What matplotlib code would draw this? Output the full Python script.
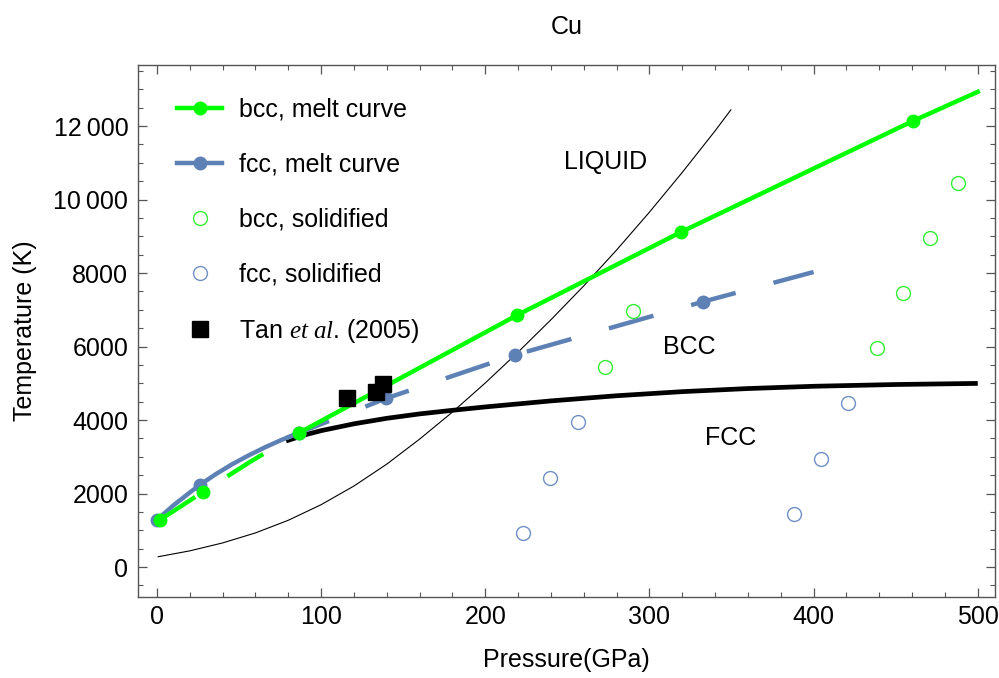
import matplotlib
matplotlib.use("Agg")
import matplotlib.pyplot as plt
from matplotlib.lines import Line2D
from matplotlib.ticker import MultipleLocator, FuncFormatter

plt.rcParams['font.family'] = ['Liberation Sans', 'DejaVu Sans']
plt.rcParams['mathtext.fontset'] = 'custom'
plt.rcParams['mathtext.it'] = 'Liberation Serif:italic'
plt.rcParams['mathtext.rm'] = 'Liberation Sans'

GREEN = '#00ff00'
BLUE = '#5e81b5'

# bcc melt curve (markers)
bcc_P = [1.8, 28, 86.4, 219.6, 319.3, 460.5]
bcc_T = [1280, 2040, 3646, 6857, 9116, 12136]
# bcc line: dashed (metastable) part and solid part
bcc_dash_P = [1.8, 28, 56, 86.4]
bcc_dash_T = [1280, 2040, 2840, 3646]
bcc_solid_P = [86.4, 219.6, 319.3, 460.5, 500]
bcc_solid_T = [3646, 6857, 9116, 12136, 12930]

# fcc melt curve (markers)
fcc_P = [0, 26, 86.4, 139.7, 218, 332.7]
fcc_T = [1280, 2230, 3646, 4590, 5769, 7220]
fcc_solid_P = [0, 10, 20, 26, 36, 46, 56, 66, 76, 86.4]
fcc_solid_T = [1280, 1675, 2025, 2230, 2530, 2800, 3040, 3260, 3460, 3646]
fcc_dash_P = [78.7, 86.4, 139.7, 218, 332.7, 400]
fcc_dash_T = [3505, 3646, 4590, 5769, 7220, 8027]

# solidified runs
bcc_sol_P = [273, 289.8, 438.6, 454.4, 471.2, 487.8]
bcc_sol_T = [5433, 6966, 5959, 7447, 8944, 10458]
fcc_sol_P = [222.8, 239.5, 256.3, 388, 404.5, 421]
fcc_sol_T = [934, 2431, 3937, 1433, 2930, 4463]

# Tan et al. (2005)
tan_P = [115.9, 133.2, 137.6]
tan_T = [4590, 4771, 4971]

# bcc-fcc phase boundary
bound_P = [78.7, 90, 100, 120, 140, 160, 180, 200, 240, 280, 320, 360, 400, 450, 500]
bound_T = [3429, 3593, 3710, 3896, 4046, 4166, 4264, 4356, 4520, 4660, 4772, 4856, 4918, 4966, 4996]

# thin curve
thin_P = [0.8, 20, 40, 60, 80, 100, 120, 140, 160, 180, 200, 220, 240, 260, 280, 300, 320, 340, 349.6]
thin_T = [280, 439, 655, 927, 1271, 1695, 2203, 2799, 3479, 4215, 5007, 5847, 6727, 7649, 8625,
          9655, 10737, 11867, 12440]

fig = plt.figure(figsize=(9.99, 6.78), dpi=100)
ax = fig.add_axes([138 / 999, 1 - 597 / 678, (995 - 138) / 999, (597 - 65) / 678])

lw = 3.2
ax.plot(bound_P, bound_T, color='black', lw=3.4, zorder=2, solid_capstyle='butt')
ax.plot(thin_P, thin_T, color='black', lw=0.8, zorder=3)

ax.plot(fcc_solid_P, fcc_solid_T, color=BLUE, lw=lw, zorder=4)
ax.plot(fcc_dash_P, fcc_dash_T, color=BLUE, lw=lw, ls=(0, (10.4, 8.8)), zorder=4)
ax.plot(fcc_P, fcc_T, 'o', color=BLUE, ms=9, zorder=5)

ax.plot(bcc_dash_P, bcc_dash_T, color=GREEN, lw=lw, ls=(0, (9.5, 8.6)), zorder=6)
ax.plot(bcc_solid_P, bcc_solid_T, color=GREEN, lw=lw, zorder=6)
ax.plot(bcc_P, bcc_T, 'o', color=GREEN, ms=9, zorder=7)

ax.plot(bcc_sol_P, bcc_sol_T, 'o', mfc='none', mec='#33ee33', ms=10, mew=1.0, zorder=5)
ax.plot(fcc_sol_P, fcc_sol_T, 'o', mfc='none', mec='#6f8fc6', ms=10, mew=1.0, zorder=5)
ax.plot(tan_P, tan_T, 's', color='black', ms=11, zorder=8)

ax.text(273.3, 11020, 'LIQUID', ha='center', va='center', fontsize=18)
ax.text(324.5, 5995, 'BCC', ha='center', va='center', fontsize=18)
ax.text(349.7, 3502, 'FCC', ha='center', va='center', fontsize=18)

ax.set_xlim(-11.5, 510.5)
ax.set_ylim(-816, 13660)

ax.xaxis.set_major_locator(MultipleLocator(100))
ax.xaxis.set_minor_locator(MultipleLocator(20))
ax.yaxis.set_major_locator(MultipleLocator(2000))
ax.yaxis.set_minor_locator(MultipleLocator(500))


def fmt_y(v, pos):
    v = int(round(v))
    if abs(v) >= 10000:
        return f"{v // 1000}\u2009{v % 1000:03d}"
    return str(v)


ax.yaxis.set_major_formatter(FuncFormatter(fmt_y))

frame = '#555555'
for s in ax.spines.values():
    s.set_color(frame)
    s.set_linewidth(1.0)
ax.tick_params(which='both', direction='in', top=True, right=True, colors=frame,
               labelcolor='black', labelsize=18)
ax.tick_params(which='major', length=6.5, width=0.9)
ax.tick_params(which='minor', length=3.6, width=0.8)
ax.tick_params(axis='y', pad=7)
ax.tick_params(axis='x', pad=6)

ax.set_xlabel('Pressure(GPa)', fontsize=18)
ax.set_ylabel('Temperature (K)', fontsize=18)
ax.xaxis.label.set_va('center')
ax.yaxis.label.set_va('center')
ax.xaxis.set_label_coords(0.5, (597 - 660) / 532)
ax.yaxis.set_label_coords((25 - 138) / 857, 0.5)
ax.set_title('Cu', fontsize=18, pad=22)

handles = [
    Line2D([], [], color=GREEN, lw=lw, marker='o', ms=9),
    Line2D([], [], color=BLUE, lw=lw, marker='o', ms=9),
    Line2D([], [], ls='none', marker='o', mfc='none', mec='#33ee33', ms=10, mew=1.0),
    Line2D([], [], ls='none', marker='o', mfc='none', mec='#6f8fc6', ms=10, mew=1.0),
    Line2D([], [], ls='none', marker='s', color='black', ms=11),
]
labels = ['bcc, melt curve', 'fcc, melt curve', 'bcc, solidified', 'fcc, solidified',
          r'Tan $\mathit{et\ al}$. (2005)']
ax.legend(handles, labels, loc='upper left', bbox_to_anchor=((177 - 138) / 857, (597 - 98) / 532),
          frameon=False, fontsize=18, numpoints=1, handlelength=1.8, handletextpad=0.68,
          labelspacing=1.23, borderpad=0, borderaxespad=0)

fig.savefig('out.png', dpi=100)
